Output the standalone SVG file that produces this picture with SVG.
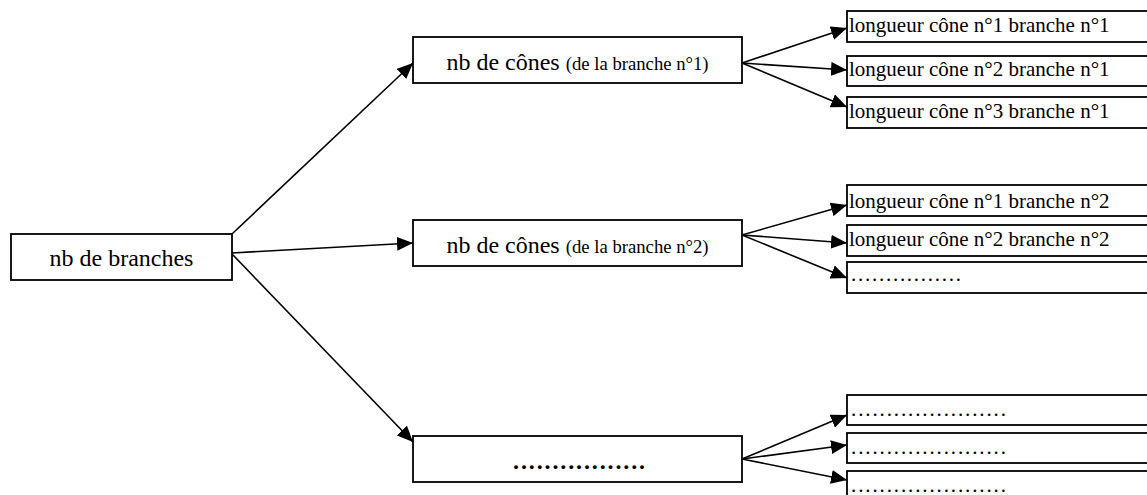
<svg xmlns="http://www.w3.org/2000/svg" width="1147" height="495" viewBox="0 0 1147 495">
<style>
.box{fill:#fff;stroke:#000;stroke-width:1.8}
text{font-family:'Liberation Serif','DejaVu Serif','Times New Roman',serif;fill:#000}
.big{font-size:24px}
.sm{font-size:18.7px}
.r{font-size:21px}
.c line{stroke:#000;stroke-width:1.6}
</style>
<defs>
<marker id="ah" markerUnits="userSpaceOnUse" markerWidth="18" markerHeight="14" refX="16" refY="7" orient="auto">
<path d="M0,0 L16,7 L0,14 z" fill="#000"/>
</marker>
</defs>
<g class="c" id="connectors" marker-end="url(#ah)">
<line x1="232" y1="234" x2="413" y2="63" marker-end="url(#ah)"/>
<line x1="232" y1="253" x2="413" y2="243" marker-end="url(#ah)"/>
<line x1="232" y1="254" x2="413" y2="442" marker-end="url(#ah)"/>
<line x1="742" y1="63" x2="847" y2="28" marker-end="url(#ah)"/>
<line x1="742" y1="63" x2="847" y2="70" marker-end="url(#ah)"/>
<line x1="742" y1="63" x2="847" y2="107" marker-end="url(#ah)"/>
<line x1="742" y1="235" x2="847" y2="205" marker-end="url(#ah)"/>
<line x1="742" y1="235" x2="847" y2="243" marker-end="url(#ah)"/>
<line x1="742" y1="235" x2="847" y2="278" marker-end="url(#ah)"/>
<line x1="742" y1="459" x2="847" y2="415" marker-end="url(#ah)"/>
<line x1="742" y1="459" x2="847" y2="445" marker-end="url(#ah)"/>
<line x1="742" y1="459" x2="847" y2="480" marker-end="url(#ah)"/>
</g>
<g id="root"><rect class="box" x="11" y="234" width="221" height="46"/><text font-family="Liberation Serif, serif" class="big" x="121.5" y="266" text-anchor="middle">nb de branches</text></g>
<g id="b1"><rect class="box" x="413" y="37" width="329" height="46"/><text font-family="Liberation Serif, serif" x="577.5" y="70" text-anchor="middle"><tspan class="big">nb de cônes </tspan><tspan class="sm">(de la branche n°1)</tspan></text></g>
<g id="b2"><rect class="box" x="413" y="220" width="329" height="46"/><text font-family="Liberation Serif, serif" x="577.5" y="253" text-anchor="middle"><tspan class="big">nb de cônes </tspan><tspan class="sm">(de la branche n°2)</tspan></text></g>
<g id="b3"><rect class="box" x="413" y="436" width="329" height="46"/><text font-family="Liberation Serif, serif" class="big" x="513" y="469" font-weight="bold" textLength="132" lengthAdjust="spacing">.................</text></g>
<g id="l11"><rect class="box" x="847" y="11" width="310" height="31"/><text font-family="Liberation Serif, serif" class="r" x="849" y="32">longueur cône n°1 branche n°1</text></g>
<g id="l21"><rect class="box" x="847" y="56" width="310" height="30"/><text font-family="Liberation Serif, serif" class="r" x="849" y="76">longueur cône n°2 branche n°1</text></g>
<g id="l31"><rect class="box" x="847" y="97" width="310" height="31"/><text font-family="Liberation Serif, serif" class="r" x="849" y="118">longueur cône n°3 branche n°1</text></g>
<g id="l12"><rect class="box" x="847" y="185" width="310" height="31"/><text font-family="Liberation Serif, serif" class="r" x="849" y="208">longueur cône n°1 branche n°2</text></g>
<g id="l22"><rect class="box" x="847" y="225" width="310" height="31"/><text font-family="Liberation Serif, serif" class="r" x="849" y="246">longueur cône n°2 branche n°2</text></g>
<g id="l32"><rect class="box" x="847" y="262" width="310" height="31"/><text font-family="Liberation Serif, serif" class="r" x="851" y="281" textLength="110" lengthAdjust="spacing">................</text></g>
<g id="l13"><rect class="box" x="847" y="395" width="310" height="30"/><text font-family="Liberation Serif, serif" class="r" x="851" y="416" textLength="155" lengthAdjust="spacing">......................</text></g>
<g id="l23"><rect class="box" x="847" y="433" width="310" height="30"/><text font-family="Liberation Serif, serif" class="r" x="851" y="454" textLength="155" lengthAdjust="spacing">......................</text></g>
<g id="l33"><rect class="box" x="847" y="471" width="310" height="30"/><text font-family="Liberation Serif, serif" class="r" x="851" y="492" textLength="155" lengthAdjust="spacing">......................</text></g>
</svg>
